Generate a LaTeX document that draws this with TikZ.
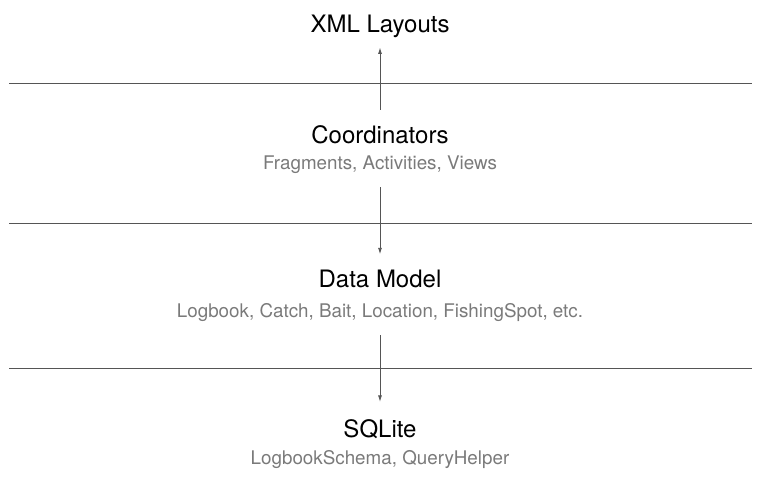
\documentclass[tikz,border=0pt]{standalone}
\usepackage{fontspec}
\setmainfont{TeX Gyre Heros}
\usetikzlibrary{arrows.meta}
\definecolor{linegray}{HTML}{555555}
\definecolor{subgray}{HTML}{7A7A7A}

\begin{document}
\begin{tikzpicture}[x=1pt,y=-1pt,
	layer/.style={anchor=base,inner sep=0pt,font=\fontsize{24}{28}\selectfont},
	parts/.style={anchor=base,inner sep=0pt,text=subgray,font=\fontsize{18.8}{22}\selectfont},
	flow/.style={draw=linegray,line width=0.9pt,-{Latex[length=6.5pt,width=4pt]}}]
	\useasboundingbox (0,0) rectangle (761,480);

	\node[layer] (X) at (380,32) {XML Layouts};
	\node[layer] (C) at (380,143) {Coordinators};
	\node[parts] (Cs) at (380,169) {Fragments, Activities, Views};
	\node[layer] (M) at (380,287) {Data Model};
	\node[parts] (Ms) at (380,317) {Logbook, Catch, Bait, Location, FishingSpot, etc.};
	\node[layer] (S) at (380,437) {SQLite};
	\node[parts] (Ss) at (380,464) {LogbookSchema, QueryHelper};

	\foreach \y in {83,223,368}
		\draw[linegray,line width=0.9pt] (9,\y) -- (752,\y);

	\draw[flow,shorten <=15pt,shorten >=10pt] (C.north) -- (X.south);
	\draw[flow,shorten <=14pt,shorten >=15pt] (Cs.south) -- (M.north);
	\draw[flow,shorten <=14pt,shorten >=17pt] (Ms.south) -- (S.north);
\end{tikzpicture}
\end{document}
